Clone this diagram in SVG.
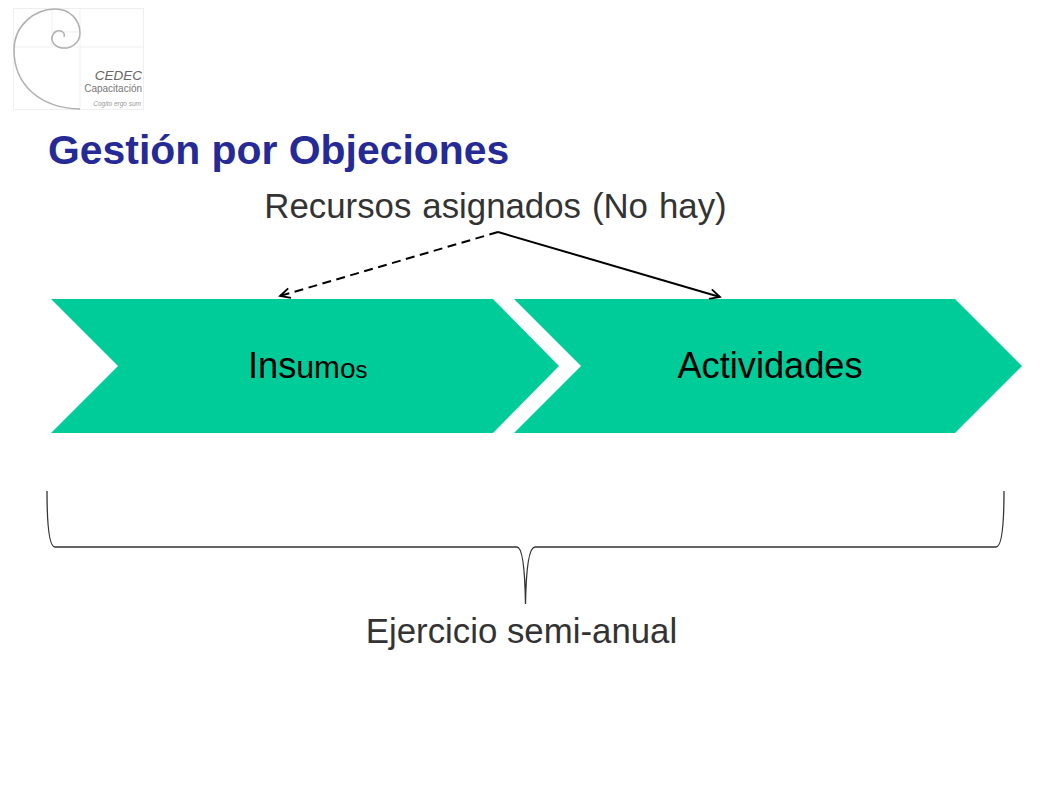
<svg xmlns="http://www.w3.org/2000/svg" width="1058" height="793" viewBox="0 0 1058 793">
<style>
text{font-family:"Liberation Sans",Arial,sans-serif}
.chev{fill:#00cc99}
.lbl{font-size:36.200px;fill:#000;text-anchor:middle}
.cap{font-size:34.800px;fill:#333;text-anchor:middle}
.conn{fill:none;stroke:#000;stroke-width:2}
.brace{fill:none;stroke:#333;stroke-width:1.3}
.grid{fill:none;stroke:#efefef;stroke-width:1}
</style>
<defs>
<marker id="open" markerWidth="14" markerHeight="14" refX="11" refY="6" orient="auto" markerUnits="userSpaceOnUse">
<path d="M1 1 L11 6 L1 11" fill="none" stroke="#000" stroke-width="1.8"/>
</marker>
</defs>
<rect width="1058" height="793" fill="#fff"/>
<g id="logo">
<rect class="grid" x="13.500" y="8.500" width="130" height="101"/>
<path class="grid" d="M80 8V109M13 47H143M52 8V47M52 32H80"/>
<path d="M80 109C40 108 14 85 14 50C14 25 35 9 55 9C70 9 80 20 80 33C80 43 71 49 62 48C55 47 51 42 52 37C53 32 57 30 61 31C64 32 65 35 64 37" fill="none" stroke="#b0b0b0" stroke-width="1.500"/>
<text x="142" y="80" font-size="13.500" font-style="italic" fill="#666" text-anchor="end">CEDEC</text>
<text x="142" y="92" font-size="10" fill="#777" text-anchor="end">Capacitación</text>
<text x="141" y="106" font-size="6.500" font-style="italic" fill="#999" text-anchor="end">Cogito ergo sum</text>
</g>
<text id="title" x="48" y="164" font-size="40.900" font-weight="700" fill="#262a96">Gestión por Objeciones</text>
<g id="recursos"><text class="cap" x="495.500" y="218" word-spacing="1.300">Recursos asignados (No hay)</text></g>
<g id="insumos">
<polygon class="chev" points="51,299 493,299 559,366 493,433 51,433 118,366"/>
<text x="248" y="378" font-size="36.200" fill="#000">In<tspan>s</tspan><tspan font-size="32">u</tspan><tspan font-size="31">m</tspan><tspan font-size="28">o</tspan><tspan font-size="24">s</tspan></text>
</g>
<g id="actividades">
<polygon class="chev" points="514,299 955,299 1022,366 955,433 514,433 581,366"/>
<text class="lbl" x="770" y="378">Actividades</text>
</g>
<g id="connectors">
<path class="conn" stroke-dasharray="9 5.500" d="M498 232L280 296" marker-end="url(#open)"/>
<path class="conn" d="M498 232L720 297" marker-end="url(#open)"/>
</g>
<g id="brace">
<path class="brace" d="M47 491C47 525 49 547 55 547H517C523 547 525 575 525.500 604C526 575 528 547 535 547H996C1002 547 1004 525 1004 491"/>
</g>
<g id="ejercicio"><text class="cap" x="521.500" y="643">Ejercicio semi-anual</text></g>
</svg>
